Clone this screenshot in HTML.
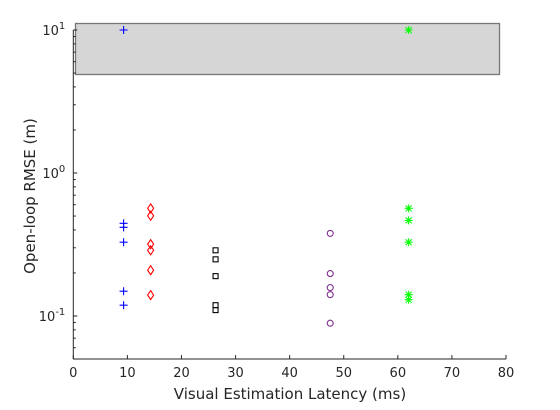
<!DOCTYPE html>
<html><head><meta charset="utf-8"><style>
body{margin:0;background:#fff}
svg text{font-family:"DejaVu Sans","Liberation Sans",sans-serif;fill:#262626}
</style></head><body>
<svg id="chart" width="560" height="405" xmlns="http://www.w3.org/2000/svg">
<rect x="75.5" y="23.5" width="424" height="51" fill="#d6d6d6" stroke="#777" stroke-width="1.3"/>
<g id="axes"></g>
<g id="marks"></g>
<text x="290" y="399" text-anchor="middle" font-size="15">Visual Estimation Latency (ms)</text>
<text transform="translate(35,196) rotate(-90)" text-anchor="middle" font-size="15">Open-loop RMSE (m)</text>
</svg>
<script>
const xTicks=[0,10,20,30,40,50,60,70,80];
const blueX=9.3, blueY=[10,0.445,0.417,0.328,0.149,0.119];
const redX=14.3, redY=[0.566,0.502,0.318,0.288,0.209,0.140];
const blackX=26.3, blackY=[0.288,0.249,0.190,0.119,0.110];
const purpleX=47.5, purpleY=[0.378,0.198,0.158,0.141,0.089];
const greenX=62, greenY=[10,0.566,0.466,0.328,0.141,0.130];

const X0=73.3,X1=506,Y10=30,DEC=143;
const sx=v=>X0+(v-0)/(80-0)*(X1-X0);
const sy=v=>Y10+(1-Math.log10(v))*DEC;
const YB=sy(0.05);
const NS='http://www.w3.org/2000/svg';
const axes=document.getElementById('axes'), marks=document.getElementById('marks');
function mk(t,a,p){const e=document.createElementNS(NS,t);for(const k in a)e.setAttribute(k,a[k]);p.appendChild(e);return e;}
let l=mk('line',{x1:X0,y1:YB,x2:X1,y2:YB,stroke:'#262626','stroke-width':1},axes);

l=mk('line',{x1:X0,y1:Y10,x2:X0,y2:YB,stroke:'#262626','stroke-width':1},axes);

xTicks.forEach(t=>{const x=sx(t);
 mk('line',{x1:x,y1:YB,x2:x,y2:YB-4,stroke:'#262626'},axes);
 const tx=mk('text',{x:x,y:YB+18,'text-anchor':'middle','font-size':13},axes);tx.textContent=t;
 
 
});
for(let d=-2;d<=1;d++)for(let m=1;m<10;m++){const v=m*Math.pow(10,d);if(v<0.05||v>10)continue;
 const y=sy(v);mk('line',{x1:X0,y1:y,x2:X0+(m==1?4:2.5),y2:y,stroke:'#262626'},axes);}
[[1,'10','1'],[0,'10','0'],[-1,'10','-1']].forEach(([e,b,s])=>{const y=sy(Math.pow(10,e));
 const tx=mk('text',{x:X0-8,y:y+5,'text-anchor':'end','font-size':13},axes);
 
 
 tx.innerHTML=b+'<tspan dy="-6" font-size="10">'+s+'</tspan>';});
function plus(x,y,c,g){mk('path',{d:`M${x-4},${y}H${x+4}M${x},${y-4}V${y+4}`,stroke:c,'stroke-width':1.1,fill:'none'},g);}
function draw(X,Ys,c,type,name){Ys.forEach(v=>{const x=sx(X),y=sy(v);
 const g=mk('g',{},marks);
 
 
 if(type=='plus')plus(x,y,c,g);
 else if(type=='diamond')mk('path',{d:`M${x},${y-4.5}L${x+3},${y}L${x},${y+4.5}L${x-3},${y}Z`,stroke:c,fill:'none','stroke-width':1.1},g);
 else if(type=='square')mk('rect',{x:x-2.5,y:y-2.5,width:5,height:5,stroke:c,fill:'none','stroke-width':1.1},g);
 else if(type=='circle')mk('circle',{cx:x,cy:y,r:3,stroke:c,fill:'none','stroke-width':1.1},g);
 else{plus(x,y,c,g);mk('path',{d:`M${x-3},${y-3}L${x+3},${y+3}M${x-3},${y+3}L${x+3},${y-3}`,stroke:c,'stroke-width':1.1},g);}
});}
draw(blueX,blueY,'#0000ff','plus','blue-plus-point');
draw(redX,redY,'#ff0000','diamond','red-diamond-point');
draw(blackX,blackY,'#000000','square','black-square-point');
draw(purpleX,purpleY,'#7e2f8e','circle','purple-circle-point');
draw(greenX,greenY,'#00ff00','star','green-star-point');
</script>
</body></html>
